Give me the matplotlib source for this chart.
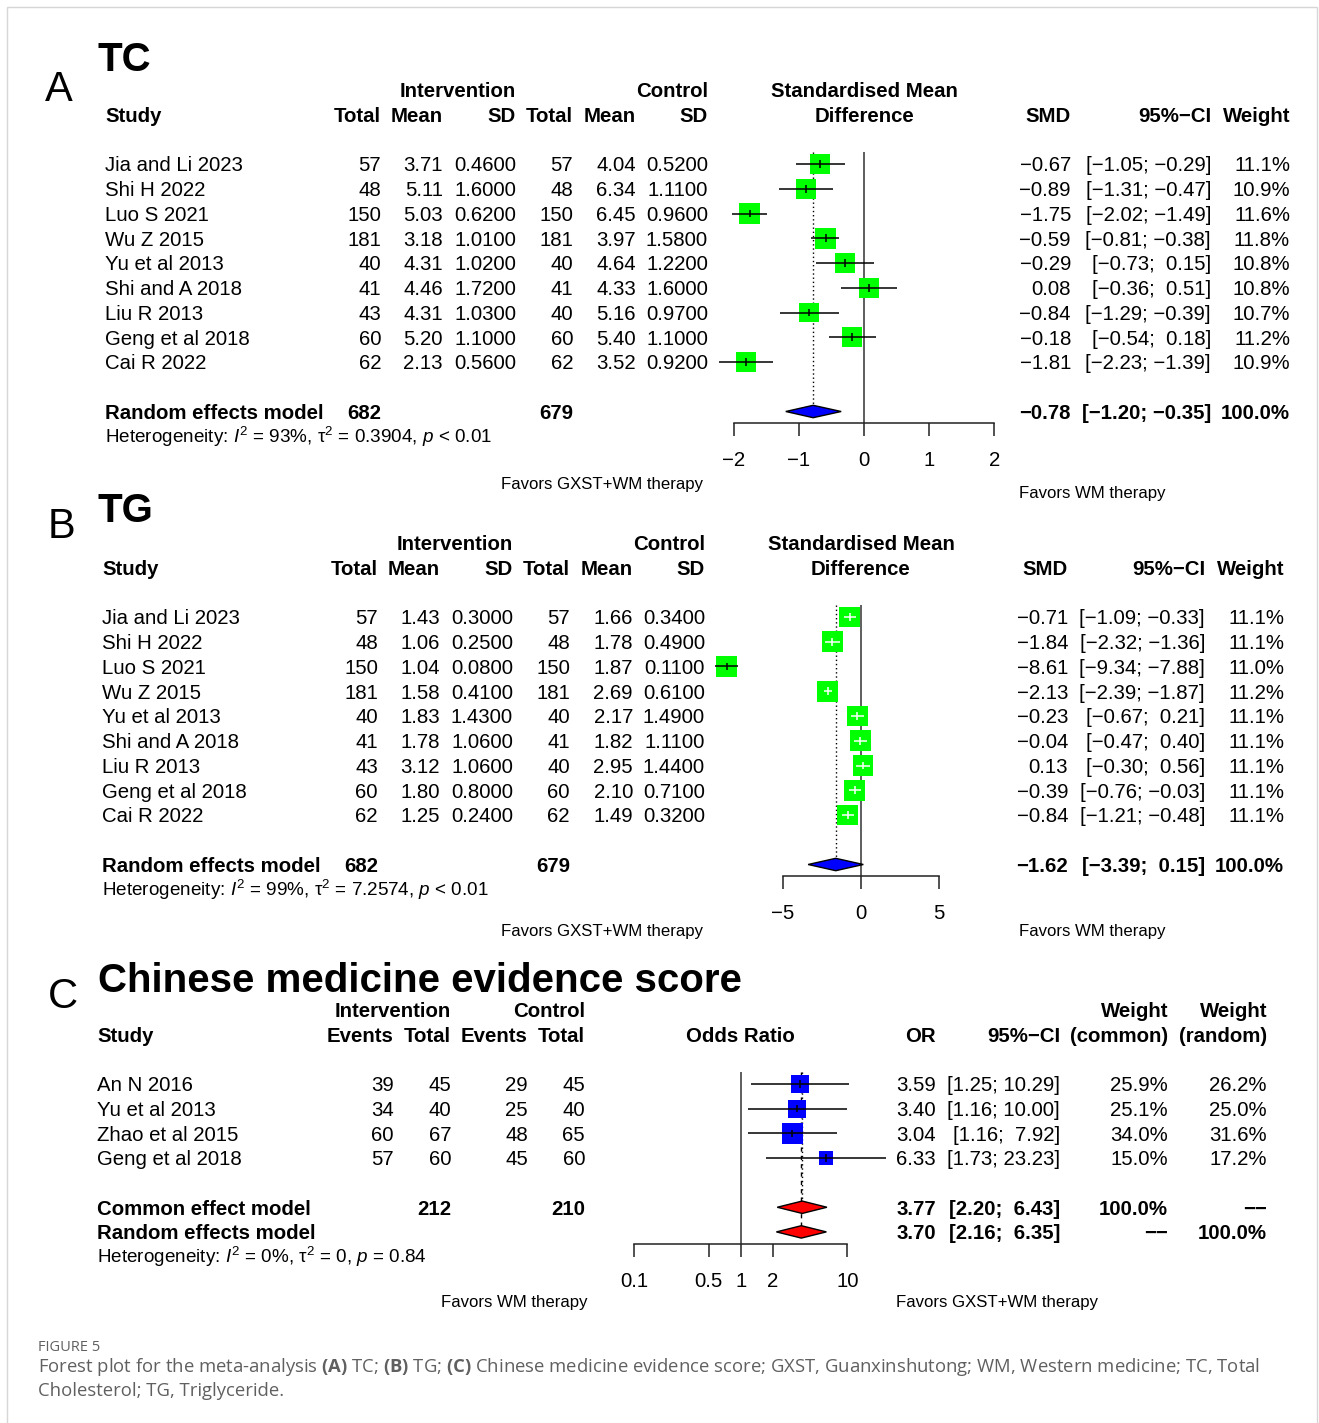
import numpy as np
import matplotlib.pyplot as plt
from matplotlib import font_manager
from matplotlib.patches import Rectangle

W, H = 1319, 1423
MINUS = '\u2212'
plt.rcParams['font.family'] = ['Liberation Sans', 'DejaVu Sans']
plt.rcParams['mathtext.fontset'] = 'custom'
plt.rcParams['mathtext.rm'] = 'Liberation Sans'
plt.rcParams['mathtext.it'] = 'Liberation Sans:italic'
plt.rcParams['mathtext.bf'] = 'Open Sans:bold'
FS = 14.7
FS_HET = 13.6

# ---------------- data ----------------
# A: TC
tc_study = ['Jia and Li 2023', 'Shi H 2022', 'Luo S 2021', 'Wu Z 2015', 'Yu et al 2013',
            'Shi and A 2018', 'Liu R 2013', 'Geng et al 2018', 'Cai R 2022']
tc_int_n = [57, 48, 150, 181, 40, 41, 43, 60, 62]
tc_int_mean = [3.71, 5.11, 5.03, 3.18, 4.31, 4.46, 4.31, 5.20, 2.13]
tc_int_sd = [0.46, 1.60, 0.62, 1.01, 1.02, 1.72, 1.03, 1.10, 0.56]
tc_ctl_n = [57, 48, 150, 181, 40, 41, 40, 60, 62]
tc_ctl_mean = [4.04, 6.34, 6.45, 3.97, 4.64, 4.33, 5.16, 5.40, 3.52]
tc_ctl_sd = [0.52, 1.11, 0.96, 1.58, 1.22, 1.60, 0.97, 1.10, 0.92]
tc_smd = [-0.67, -0.89, -1.75, -0.59, -0.29, 0.08, -0.84, -0.18, -1.81]
tc_lo = [-1.05, -1.31, -2.02, -0.81, -0.73, -0.36, -1.29, -0.54, -2.23]
tc_hi = [-0.29, -0.47, -1.49, -0.38, 0.15, 0.51, -0.39, 0.18, -1.39]
tc_w = [11.1, 10.9, 11.6, 11.8, 10.8, 10.8, 10.7, 11.2, 10.9]
tc_sum = [-0.78, -1.20, -0.35]
tc_tot = [682, 679]
tc_het = r'Heterogeneity: $I^2$ = 93%, $\mathrm{\tau}^2$ = 0.3904, $p$ < 0.01'

# B: TG
tg_study = tc_study
tg_int_n = tc_int_n
tg_int_mean = [1.43, 1.06, 1.04, 1.58, 1.83, 1.78, 3.12, 1.80, 1.25]
tg_int_sd = [0.30, 0.25, 0.08, 0.41, 1.43, 1.06, 1.06, 0.80, 0.24]
tg_ctl_n = tc_ctl_n
tg_ctl_mean = [1.66, 1.78, 1.87, 2.69, 2.17, 1.82, 2.95, 2.10, 1.49]
tg_ctl_sd = [0.34, 0.49, 0.11, 0.61, 1.49, 1.11, 1.44, 0.71, 0.32]
tg_smd = [-0.71, -1.84, -8.61, -2.13, -0.23, -0.04, 0.13, -0.39, -0.84]
tg_lo = [-1.09, -2.32, -9.34, -2.39, -0.67, -0.47, -0.30, -0.76, -1.21]
tg_hi = [-0.33, -1.36, -7.88, -1.87, 0.21, 0.40, 0.56, -0.03, -0.48]
tg_w = [11.1, 11.1, 11.0, 11.2, 11.1, 11.1, 11.1, 11.1, 11.1]
tg_sum = [-1.62, -3.39, 0.15]
tg_tot = [682, 679]
tg_het = r'Heterogeneity: $I^2$ = 99%, $\mathrm{\tau}^2$ = 7.2574, $p$ < 0.01'

# C: Chinese medicine evidence score
cm_study = ['An N 2016', 'Yu et al 2013', 'Zhao et al 2015', 'Geng et al 2018']
cm_int_ev = [39, 34, 60, 57]
cm_int_n = [45, 40, 67, 60]
cm_ctl_ev = [29, 25, 48, 45]
cm_ctl_n = [45, 40, 65, 60]
cm_or = [3.59, 3.40, 3.04, 6.33]
cm_lo = [1.25, 1.16, 1.16, 1.73]
cm_hi = [10.29, 10.00, 7.92, 23.23]
cm_w_common = [25.9, 25.1, 34.0, 15.0]
cm_w_random = [26.2, 25.0, 31.6, 17.2]
cm_common = [3.77, 2.20, 6.43]
cm_random = [3.70, 2.16, 6.35]
cm_tot = [212, 210]
cm_het = r'Heterogeneity: $I^2$ = 0%, $\mathrm{\tau}^2$ = 0, $p$ = 0.84'
cm_ticks = [0.1, 0.5, 1, 2, 10]
cm_ticklabels = ['0.1', '0.5', '1', '2', '10']


def has_font(name):
    try:
        font_manager.findfont(name, fallback_to_default=False)
        return True
    except ValueError:
        return False


if has_font('Liberation Sans Narrow'):
    FAV = dict(family='Liberation Sans Narrow', size=14.7)
else:
    FAV = dict(family='Liberation Sans', size=12.1)


def num(v, nd=2):
    return f'{v:.{nd}f}'.replace('-', MINUS)


def ci_strings(lo, hi):
    los = [num(v) for v in lo]
    his = [num(v) for v in hi]
    wl = max(len(s) for s in los)
    wh = max(len(s) for s in his)
    return [f'[{a.rjust(wl)}; {b.rjust(wh)}]' for a, b in zip(los, his)]


fig = plt.figure(figsize=(W / 100, H / 100), dpi=100)
bg = fig.add_axes([0, 0, 1, 1])
bg.set_xlim(0, W)
bg.set_ylim(H, 0)
bg.axis('off')
bg.add_patch(Rectangle((7, 7), 1310, 1430, fill=False, edgecolor='#d6d6d6', lw=1))

CAP = 0.716 * FS * 100 / 72 / 2


def txt(x, y, s, ha='left', bold=False, size=FS, **kw):
    bg.text(x, y + CAP * size / FS, s, ha=ha, va='baseline', fontsize=size,
            fontweight='bold' if bold else 'normal', **kw)


def panel_axes(x0, ppu, row0, step, box, log=False):
    l, r, t, b = box
    ax = fig.add_axes([l / W, 1 - b / H, (r - l) / W, (b - t) / H])
    ax.patch.set_visible(False)
    if log:
        ax.set_xscale('log')
        ax.set_xlim(10 ** ((l - x0) / ppu), 10 ** ((r - x0) / ppu))
    else:
        ax.set_xlim((l - x0) / ppu, (r - x0) / ppu)
    ax.set_ylim((b - row0) / step, (t - row0) / step)
    for s in ['top', 'left', 'right']:
        ax.spines[s].set_visible(False)
    ax.tick_params(left=False, labelleft=False)
    return ax


def draw_studies(ax, est, lo, hi, w, color, step, maxside=21):
    rows = np.arange(len(est))
    est, lo, hi, w = map(np.asarray, (est, lo, hi, w))
    side = maxside * np.sqrt(w / w.max())
    ax.scatter(est, rows, s=(side * 0.72) ** 2, marker='s', color=color,
               linewidths=0, zorder=3)
    p_lo = ax.transData.transform(np.c_[lo, rows])[:, 0]
    p_hi = ax.transData.transform(np.c_[hi, rows])[:, 0]
    p_est = ax.transData.transform(np.c_[est, rows])[:, 0]
    inside = (p_est - p_lo < side / 2) & (p_hi - p_est < side / 2)
    cols = ['white' if f else 'black' for f in inside]
    ax.hlines(rows, lo, hi, colors=cols, lw=1.1, zorder=4)
    th = 3.8 / step
    ax.vlines(est, rows - th, rows + th, colors=cols, lw=1.1, zorder=4)


def diamond(ax, row, est, lo, hi, color, step):
    dh = 6.2 / step
    ax.fill([lo, est, hi, est], [row, row - dh, row, row + dh], facecolor=color,
            edgecolor='black', lw=1.0, zorder=4)


def set_axis(ax, axis_row, bounds, ticks, labels=None):
    sp = ax.spines['bottom']
    sp.set_position(('data', axis_row))
    sp.set_bounds(*bounds)
    sp.set_linewidth(1.1)
    sp.set_color('#222222')
    ax.xaxis.set_minor_locator(plt.NullLocator())
    if labels is None:
        ax.set_xticks(ticks)
    else:
        ax.set_xticks(ticks, labels=labels)
    ax.tick_params(axis='x', direction='out', length=9, width=1.1, color='#222222',
                   labelsize=FS, pad=11)


# ---------------- SMD panels (A, B) ----------------
def smd_panel(letter, title, lt, row0, step, x0, ppu, box, cols, ctr, right_cols,
              study, int_n, int_mean, int_sd, ctl_n, ctl_mean, ctl_sd,
              smd, lo, hi, w, summ, tot, het, ticks, bounds, axis_row, fav_y):
    def row(i):
        return row0 + step * i
    txt(lt[0], lt[1], letter, size=30)
    txt(98, lt[2], title, bold=True, size=29)
    sx = cols[0]
    txt(cols[3], row(-3), 'Intervention', ha='right', bold=True)
    txt(cols[6], row(-3), 'Control', ha='right', bold=True)
    txt(ctr, row(-3), 'Standardised Mean', ha='center', bold=True)
    txt(sx, row(-2), 'Study', bold=True)
    for x, s in zip(cols[1:], ['Total', 'Mean', 'SD', 'Total', 'Mean', 'SD']):
        txt(x, row(-2), s, ha='right', bold=True)
    txt(ctr, row(-2), 'Difference', ha='center', bold=True)
    for x, s in zip(right_cols, ['SMD', '95%' + MINUS + 'CI', 'Weight']):
        txt(x, row(-2), s, ha='right', bold=True)
    cis = ci_strings(list(lo) + [summ[1]], list(hi) + [summ[2]])
    for i in range(len(study)):
        y = row(i)
        txt(sx, y, study[i])
        vals = [str(int_n[i]), num(int_mean[i]), num(int_sd[i], 4),
                str(ctl_n[i]), num(ctl_mean[i]), num(ctl_sd[i], 4)]
        for x, s in zip(cols[1:], vals):
            txt(x, y, s, ha='right')
        for x, s in zip(right_cols, [num(smd[i]), cis[i], f'{w[i]:.1f}%']):
            txt(x, y, s, ha='right')
    n = len(study) + 1
    txt(sx, row(n), 'Random effects model', bold=True)
    txt(cols[1], row(n), str(tot[0]), ha='right', bold=True)
    txt(cols[4], row(n), str(tot[1]), ha='right', bold=True)
    for x, s in zip(right_cols, [num(summ[0]), cis[-1], '100.0%']):
        txt(x, row(n), s, ha='right', bold=True)
    txt(sx, row(n + 1), het, size=FS_HET)

    ax = panel_axes(x0, ppu, row0, step, box)
    draw_studies(ax, smd, lo, hi, w, '#00ff00', step)
    diamond(ax, n, summ[0], summ[1], summ[2], '#0000ff', step)
    ax.vlines(0, -0.5, axis_row, color='#333333', lw=1.1, zorder=2)
    ax.vlines(summ[0], -0.5, n - 6.2 / step, color='black', lw=1.0,
              linestyles=(0, (1, 2)), zorder=1)
    set_axis(ax, axis_row, bounds, ticks)
    txt(602, fav_y[0], 'Favors GXST+WM therapy', ha='center', **FAV)
    txt(1092, fav_y[1], 'Favors WM therapy', ha='center', **FAV)


smd_panel('A', 'TC', (45, 86, 57), 164, 24.75, 864, 65.2, (690, 1010, 140, 480),
          [105, 381, 443, 516, 573, 636, 708], 864, [1071, 1211, 1290],
          tc_study, tc_int_n, tc_int_mean, tc_int_sd, tc_ctl_n, tc_ctl_mean, tc_ctl_sd,
          tc_smd, tc_lo, tc_hi, tc_w, tc_sum, tc_tot, tc_het,
          [-2, -1, 0, 1, 2], (-2, 2), 10.48, (483, 492))

smd_panel('B', 'TG', (48, 523, 508), 617, 24.75, 861, 15.6, (700, 1000, 595, 930),
          [102, 378, 440, 513, 570, 633, 705], 861, [1068, 1205, 1284],
          tg_study, tg_int_n, tg_int_mean, tg_int_sd, tg_ctl_n, tg_ctl_mean, tg_ctl_sd,
          tg_smd, tg_lo, tg_hi, tg_w, tg_sum, tg_tot, tg_het,
          [-5, 0, 5], (-5, 5), 10.46, (930, 930))

# ---------------- OR panel (C) ----------------
row0, step = 1084, 24.65


def crow(i):
    return row0 + step * i


txt(48, 993, 'C', size=30)
txt(98, 978, 'Chinese medicine evidence score', bold=True, size=29)
ccols = [394, 451, 528, 585]
rcols = [936, 1060, 1168, 1267]
txt(451, crow(-3), 'Intervention', ha='right', bold=True)
txt(585, crow(-3), 'Control', ha='right', bold=True)
txt(1168, crow(-3), 'Weight', ha='right', bold=True)
txt(1267, crow(-3), 'Weight', ha='right', bold=True)
txt(97, crow(-2), 'Study', bold=True)
for x, s in zip(ccols, ['Events', 'Total', 'Events', 'Total']):
    txt(x, crow(-2), s, ha='right', bold=True)
txt(740, crow(-2), 'Odds Ratio', ha='center', bold=True)
for x, s in zip(rcols, ['OR', '95%' + MINUS + 'CI', '(common)', '(random)']):
    txt(x, crow(-2), s, ha='right', bold=True)
cis = ci_strings(cm_lo + [cm_common[1], cm_random[1]], cm_hi + [cm_common[2], cm_random[2]])
for i in range(len(cm_study)):
    y = crow(i)
    txt(97, y, cm_study[i])
    for x, v in zip(ccols, [cm_int_ev[i], cm_int_n[i], cm_ctl_ev[i], cm_ctl_n[i]]):
        txt(x, y, str(v), ha='right')
    for x, s in zip(rcols, [num(cm_or[i]), cis[i], f'{cm_w_common[i]:.1f}%',
                            f'{cm_w_random[i]:.1f}%']):
        txt(x, y, s, ha='right')
dash = MINUS + MINUS
nc = len(cm_study) + 1
txt(97, crow(nc), 'Common effect model', bold=True)
txt(451, crow(nc), str(cm_tot[0]), ha='right', bold=True)
txt(585, crow(nc), str(cm_tot[1]), ha='right', bold=True)
for x, s in zip(rcols, [num(cm_common[0]), cis[-2], '100.0%', dash]):
    txt(x, crow(nc), s, ha='right', bold=True)
txt(97, crow(nc + 1), 'Random effects model', bold=True)
for x, s in zip(rcols, [num(cm_random[0]), cis[-1], dash, '100.0%']):
    txt(x, crow(nc + 1), s, ha='right', bold=True)
txt(97, crow(nc + 2), cm_het, size=FS_HET)

axc = panel_axes(740.7, 106.7, row0, step, (600, 920, 1060, 1290), log=True)
draw_studies(axc, cm_or, cm_lo, cm_hi, cm_w_common, '#0000ff', step)
diamond(axc, nc, *cm_common, '#ff0000', step)
diamond(axc, nc + 1, *cm_random, '#ff0000', step)
axc.vlines(1, -0.5, 6.49, color='#333333', lw=1.1, zorder=2)
axc.vlines(cm_common[0], -0.5, nc - 6.2 / step, color='black', lw=1.0,
           linestyles=(0, (1, 2)), zorder=1)
axc.vlines(cm_random[0], -0.5, nc + 1 - 6.2 / step, color='black', lw=1.0,
           linestyles=(0, (3, 3)), zorder=1)
set_axis(axc, 6.49, (0.1, 10), cm_ticks, cm_ticklabels)
txt(514, 1301, 'Favors WM therapy', ha='center', **FAV)
txt(997, 1301, 'Favors GXST+WM therapy', ha='center', **FAV)

# ---------------- caption ----------------
GREY = '#606060'
bg.text(38, 1351, 'FIGURE 5', fontsize=10.5, family='Open Sans', color=GREY, va='baseline')
cap1 = (r'Forest plot for the meta-analysis $\mathbf{(A)}$ TC; $\mathbf{(B)}$ TG; '
        r'$\mathbf{(C)}$ Chinese medicine evidence score; GXST, Guanxinshutong; WM, '
        r'Western medicine; TC, Total')
cap2 = 'Cholesterol; TG, Triglyceride.'
t1 = bg.text(38, 1372, cap1, fontsize=13, family='Open Sans', color=GREY, va='baseline')
r = fig.canvas.get_renderer()
fsz = 13 * 1217 / t1.get_window_extent(r).width
t1.set_fontsize(fsz)
bg.text(38, 1396, cap2, fontsize=fsz, family='Open Sans', color=GREY, va='baseline')

fig.savefig('out.png', dpi=100)
